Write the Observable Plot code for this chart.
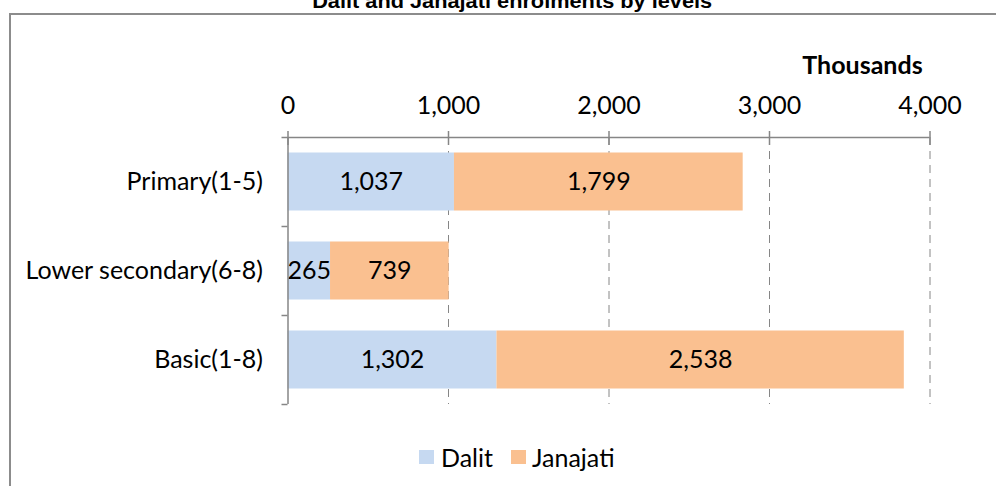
<!DOCTYPE html>
<html>
<head>
<meta charset="utf-8">
<script src="https://cdn.jsdelivr.net/npm/d3@7"></script>
<script src="https://cdn.jsdelivr.net/npm/@observablehq/plot@0.6"></script>
<style>
  html, body { margin: 0; padding: 0; background: #fff; }
  #wrap { position: relative; width: 996px; height: 486px; overflow: hidden; font-family: Lato, "Noto Sans", sans-serif; }
  #border { position: absolute; left: 9px; top: 13px; width: 1000px; height: 500px; border-left: 2px solid #8c8c8c; border-top: 2px solid #8c8c8c; box-sizing: border-box; }
  #title { position: absolute; left: 0; width: 1024px; top: -11px; text-align: center; font-family: "Liberation Sans Narrow", "Liberation Sans", Arial, sans-serif; font-weight: bold; font-size: 21px; color: #000; white-space: nowrap; }
  #title span { display: inline-block; transform-origin: center; }
  #units { position: absolute; left: 780px; width: 165px; top: 49px; text-align: center; font-weight: bold; font-size: 25px; color: #000; }
  .leg { position: absolute; font-size: 25px; color: #000; top: 440px; line-height: 34px; }
  .sw { position: absolute; width: 15px; height: 14px; top: 450px; }
  #chart { position: absolute; left: 0; top: 0; }
</style>
</head>
<body>
<div id="wrap">
  <div id="border"></div>
  <div id="chart"></div>
  <div id="title"><span id="titleText">Dalit and Janajati enrolments by levels</span></div>
  <div id="units">Thousands</div>
</div>
<script>
const levels = ["Primary(1-5)", "Lower secondary(6-8)", "Basic(1-8)"];
const seriesNames = ["Dalit", "Janajati"];
const dalit = [1037, 265, 1302];
const janajati = [1799, 739, 2538];
const xTicks = [0, 1000, 2000, 3000, 4000];
const colors = ["#C6D9F1", "#FAC090"];

const rows = [];
levels.forEach((lv, i) => {
  rows.push({level: lv, series: seriesNames[0], value: dalit[i]});
  rows.push({level: lv, series: seriesNames[1], value: janajati[i]});
});

const axisColor = "#868686";
const font = "Lato, 'Noto Sans', sans-serif";
const bandStep = (404 - 137) / levels.length;

const chart = Plot.plot({
  width: 996,
  height: 486,
  marginLeft: 287.5,
  marginRight: 66.5,
  marginTop: 137,
  marginBottom: 82,
  style: {fontFamily: font, background: "transparent", overflow: "visible"},
  x: {domain: [0, 4000], axis: null, label: null},
  y: {domain: levels, padding: 0, axis: null, label: null},
  color: {domain: seriesNames, range: colors},
  marks: [
    Plot.ruleX(xTicks.slice(1), {x: d => d, stroke: axisColor, strokeWidth: 1, strokeDasharray: "8,6"}),
    Plot.barX(rows, Plot.stackX({x: "value", y: "level", fill: "series", z: "series", insetTop: 15.5, insetBottom: 15.5})),
    Plot.text(rows, Plot.stackX({x: "value", y: "level", z: "series", text: d => d3.format(",")(d.value), fontSize: 25, fill: "#000"})),
    // y axis line
    Plot.ruleX([0], {stroke: axisColor, strokeWidth: 1.5}),
    // x axis line (top)
    Plot.ruleY([levels[0]], {y: d => d, x1: 0, x2: 4000, dy: -bandStep / 2, stroke: axisColor, strokeWidth: 1.5}),
    // y axis ticks at band boundaries
    Plot.ruleY(levels, {y: d => d, x1: 0, x2: 0, insetLeft: -6, dy: -bandStep / 2, stroke: axisColor, strokeWidth: 1.5}),
    Plot.ruleY([levels[levels.length - 1]], {y: d => d, x1: 0, x2: 0, insetLeft: -6, dy: bandStep / 2, stroke: axisColor, strokeWidth: 1.5}),
    // x axis ticks crossing the line
    Plot.axisX(xTicks, {anchor: "top", label: null, tickSize: 14, dy: 7, fill: "none", stroke: axisColor, strokeWidth: 1.5}),
    // x tick labels
    Plot.axisX(xTicks, {anchor: "top", label: null, tickSize: 0, tickPadding: 24, tickFormat: d3.format(","), fontSize: 25, fill: "#000"}),
    // y labels
    Plot.axisY(levels, {anchor: "left", label: null, tickSize: 0, tickPadding: 25, fontSize: 25, fill: "#000"})
  ]
});
document.getElementById("chart").appendChild(chart);

// legend
const wrap = document.getElementById("wrap");
const legPos = [{sw: 419, tx: 441}, {sw: 511, tx: 532}];
seriesNames.forEach((s, i) => {
  const sw = document.createElement("div");
  sw.className = "sw";
  sw.style.left = legPos[i].sw + "px";
  sw.style.background = colors[i];
  wrap.appendChild(sw);
  const t = document.createElement("div");
  t.className = "leg";
  t.style.left = legPos[i].tx + "px";
  t.textContent = s;
  wrap.appendChild(t);
});

// fit title width
const tt = document.getElementById("titleText");
const w = tt.getBoundingClientRect().width;
tt.style.transform = `scaleX(${400 / w})`;
</script>
</body>
</html>
